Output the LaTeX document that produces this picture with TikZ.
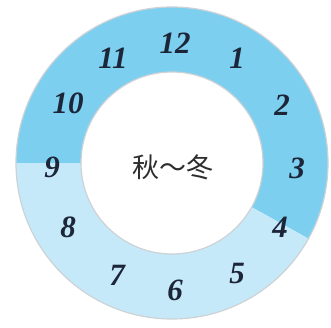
\documentclass[tikz,border=0pt]{standalone}
\usepackage{fontspec}
\setmainfont{Liberation Serif}
\newfontfamily\cjk{Noto Sans CJK JP}
\usetikzlibrary{calc}
\definecolor{darkband}{RGB}{125,207,240}
\definecolor{lightband}{RGB}{198,233,249}
\definecolor{rimgray}{RGB}{205,210,214}
\definecolor{numcol}{RGB}{28,38,56}
\definecolor{txtcol}{RGB}{45,45,45}
\tikzset{
  num/.style={font=\fontsize{31}{31}\selectfont\bfseries\itshape, text=numcol, inner sep=0pt, anchor=center},
  ctext/.style={font=\cjk\fontsize{27}{27}\selectfont, text=txtcol, inner sep=0pt}
}
\begin{document}
\begin{tikzpicture}[x=1pt,y=1pt]
\useasboundingbox (0,0) rectangle (331,327);
\fill[white] (0,0) rectangle (331,327);
\coordinate (c) at (172,164);
\def\Ro{156}
\def\Ri{91}
\fill[darkband] ($(c)+(-29:\Ro)$) arc[start angle=-29,end angle=180,radius=\Ro]
  -- ($(c)+(180:\Ri)$) arc[start angle=180,end angle=-29,radius=\Ri] -- cycle;
\fill[lightband] ($(c)+(180:\Ro)$) arc[start angle=180,end angle=331,radius=\Ro]
  -- ($(c)+(331:\Ri)$) arc[start angle=331,end angle=180,radius=\Ri] -- cycle;
\draw[rimgray, line width=1.2pt] (c) circle[radius=\Ro];
\draw[rimgray, line width=1.2pt, fill=white] (c) circle[radius=\Ri];
\node[num] (n12) at (175,284) {12};
\node[num] (n1) at (237,269) {1};
\node[num] (n2) at (282,222) {2};
\node[num] (n3) at (297,159) {3};
\node[num] (n4) at (280,100) {4};
\node[num] (n5) at (237,54) {5};
\node[num] (n6) at (175,37) {6};
\node[num] (n7) at (117,52) {7};
\node[num] (n8) at (68,100) {8};
\node[num] (n9) at (52,160) {9};
\node[num] (n10) at (68,224) {10};
\node[num] (n11) at (113,269) {11};
\node[ctext] (season) at (173,160) {秋～冬};
\end{tikzpicture}
\end{document}
